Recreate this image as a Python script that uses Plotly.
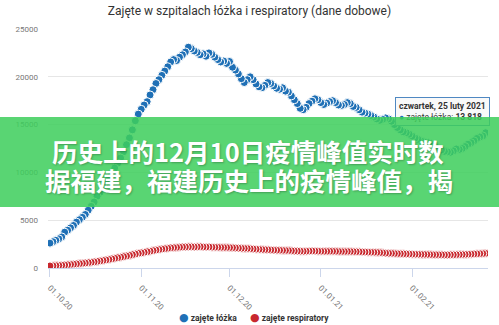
import pandas as pd
import plotly.graph_objects as go

# Daily occupied hospital beds (Oct 1, 2020 - Feb 26, 2021)
beds_oct = [2600, 2750, 2900, 3050, 3250, 3750, 3950, 4200, 4450, 4800,
            5050, 5300, 5600, 6050, 6450, 6900, 7500, 7900, 8500, 8900,
            9400, 9900, 10450, 10950, 11500, 12150, 12900, 13600, 14450, 15400,
            16100]
beds_nov = [16600, 17050, 17400, 18100, 18650, 19300, 19700, 20150, 20600, 21050,
            21550, 21800, 21700, 22050, 22300, 22600, 23100, 22950, 22700, 22550,
            22300, 22400, 22150, 22500, 22350, 22050, 21800, 21550, 21650, 21400]
beds_dec = [21600, 21000, 20700, 20300, 19800, 19400, 19700, 20000, 19700, 19250,
            18950, 18850, 19100, 19400, 19300, 19050, 18800, 18700, 18850, 18500,
            18400, 18000, 17600, 17200, 16700, 16550, 16800, 17200, 17450, 17700,
            17600]
beds_jan = [17300, 17100, 17250, 17400, 17500, 17300, 17050, 17000, 17100, 17300,
            17200, 16900, 16800, 16550, 16300, 16200, 16100, 15950, 15800, 15600,
            15450, 15550, 15700, 15600, 15350, 15000, 14700, 14450, 14250, 14150,
            14000]
beds_feb = [13800, 13600, 13450, 13300, 13200, 13150, 13050, 12850, 12700, 12500,
            12350, 12200, 12150, 12100, 12250, 12450, 12400, 12500, 12700, 12950,
            13100, 13300, 13550, 13700, 13818, 14150]

# Daily occupied ventilators, same days
vent_oct = [210, 230, 250, 270, 290, 310, 340, 370, 400, 430,
            460, 490, 520, 560, 600, 640, 690, 740, 790, 840,
            890, 950, 1010, 1070, 1130, 1190, 1250, 1320, 1390, 1460,
            1530]
vent_nov = [1580, 1640, 1700, 1760, 1820, 1880, 1930, 1980, 2020, 2060,
            2100, 2130, 2150, 2170, 2190, 2200, 2210, 2210, 2200, 2210,
            2220, 2200, 2190, 2200, 2180, 2170, 2160, 2150, 2140, 2140]
vent_dec = [2130, 2120, 2100, 2080, 2060, 2050, 2040, 2010, 1990, 1970,
            1950, 1930, 1920, 1910, 1890, 1870, 1860, 1850, 1840, 1830,
            1820, 1800, 1780, 1770, 1760, 1750, 1760, 1770, 1780, 1770,
            1760]
vent_jan = [1750, 1740, 1740, 1750, 1750, 1740, 1730, 1720, 1720, 1730,
            1720, 1710, 1700, 1690, 1680, 1670, 1660, 1650, 1640, 1630,
            1610, 1590, 1560, 1540, 1530, 1510, 1500, 1490, 1480, 1470,
            1460]
vent_feb = [1450, 1440, 1430, 1420, 1420, 1410, 1400, 1390, 1390, 1380,
            1380, 1370, 1370, 1380, 1380, 1390, 1400, 1410, 1420, 1440,
            1450, 1470, 1480, 1500, 1510, 1530]

beds = beds_oct + beds_nov + beds_dec + beds_jan + beds_feb
vents = vent_oct + vent_nov + vent_dec + vent_jan + vent_feb
dates = pd.date_range("2020-10-01", periods=len(beds), freq="D")

month_ticks = ["2020-10-01", "2020-11-01", "2020-12-01", "2021-01-01", "2021-02-01"]
y_ticks = [0, 5000, 10000, 15000, 20000, 25000]

title_text = "Zajęte w szpitalach łóżka i respiratory (dane dobowe)"
series_names = ["zajęte łóżka", "zajęte respiratory"]
series_colors = ["#1f70b6", "#c8282e"]

tooltip_date = "2021-02-25"
tooltip_label = "czwartek, 25 luty 2021"

banner_lines = ["历史上的12月10日疫情峰值实时数", "据福建，福建历史上的疫情峰值，揭"]

# plot-area geometry in pixels
W, H = 499, 325
L, R, T, B = 48, 11, 29, 57
PW, PH = W - L - R, H - T - B


def px_x(px):
    return (px - L) / PW


def px_y(py):
    return (H - B - py) / PH


fig = go.Figure()

# earlier days are painted last so they sit on top of the following ones
for vals, name, color in [(beds, series_names[0], series_colors[0]),
                          (vents, series_names[1], series_colors[1])]:
    fig.add_trace(go.Scatter(
        x=list(dates[::-1]), y=vals[::-1], name=name, mode="markers",
        marker=dict(size=8, color=color, line=dict(color="white", width=1)),
        hoverinfo="skip", showlegend=False,
    ))

tooltip_value = beds[list(dates.strftime("%Y-%m-%d")).index(tooltip_date)]
value_str = f"{tooltip_value:,}".replace(",", " ")

annotations = [
    # hover box for one day
    dict(x=tooltip_date, y=tooltip_value, xref="x", yref="y",
         xanchor="right", yanchor="bottom", xshift=7, yshift=10,
         showarrow=False, align="left",
         text=(f"<b>{tooltip_label}</b><br>"
               f"<span style='color:{series_colors[0]}'>●</span> zajęte łóżka: <b>{value_str}</b>"),
         font=dict(family="Roboto", size=8.5, color="#333333"),
         bgcolor="rgba(248,248,248,0.9)", bordercolor="#4f88c2",
         borderwidth=1, borderpad=3),
    # green banner across the chart
    dict(x=px_x(0), y=px_y(117), xref="paper", yref="paper",
         xanchor="left", yanchor="top", showarrow=False, text=" ",
         width=W, height=90, borderpad=0, borderwidth=0,
         bgcolor="rgba(62,206,92,0.86)"),
]
for i, (line, px0) in enumerate(zip(banner_lines, [50, 43])):
    annotations.append(dict(
        x=px_x(px0), y=px_y(150 + 30 * i), xref="paper", yref="paper",
        xanchor="left", yanchor="middle", showarrow=False, text=line,
        font=dict(family="Noto Sans CJK SC", size=25.5, color="white",
                  weight="bold", shadow="1px 1px 2px rgba(0,0,0,0.25)"),
    ))

# legend entries below the axis
for name, color, px0 in zip(series_names, series_colors, [177, 248]):
    annotations.append(dict(
        x=px_x(px0), y=px_y(317), xref="paper", yref="paper",
        xanchor="left", yanchor="middle", showarrow=False,
        text=(f"<span style='color:{color};font-size:11px;font-family:DejaVu Sans'>●</span>"
              f" <b>{name}</b>"),
        font=dict(family="Roboto", size=8.5, color="#333333"),
    ))

fig.update_layout(
    width=W, height=H,
    margin=dict(l=L, r=R, t=T, b=B, pad=0, autoexpand=False),
    paper_bgcolor="white", plot_bgcolor="white",
    title=dict(text=title_text, x=0.5, xref="container", xanchor="center",
               y=1 - 11 / H, yanchor="middle",
               font=dict(family="Roboto", size=12, color="#333333")),
    showlegend=False,
    annotations=annotations,
)

fig.update_xaxes(
    type="date", range=["2020-09-30 08:00", "2021-02-26 19:00"],
    tickvals=month_ticks, tickformat="%d.%m.%y", tickangle=45,
    ticks="outside", ticklen=8, tickcolor="#ccd6eb", tickwidth=1,
    showgrid=False, showline=True, linecolor="#ccd6eb", linewidth=1,
    tickfont=dict(family="Roboto", size=8, color="#777777"),
    ticklabelstandoff=3, automargin=False, fixedrange=True,
)
fig.update_yaxes(
    range=[0, 25000], tickvals=y_ticks, tickformat="d",
    showgrid=True, gridcolor="#e6e6e6", gridwidth=1, zeroline=False,
    ticks="", ticklabelstandoff=9, automargin=False,
    tickfont=dict(family="Roboto", size=8, color="#777777"),
    fixedrange=True,
)

fig.write_html("out.html")
